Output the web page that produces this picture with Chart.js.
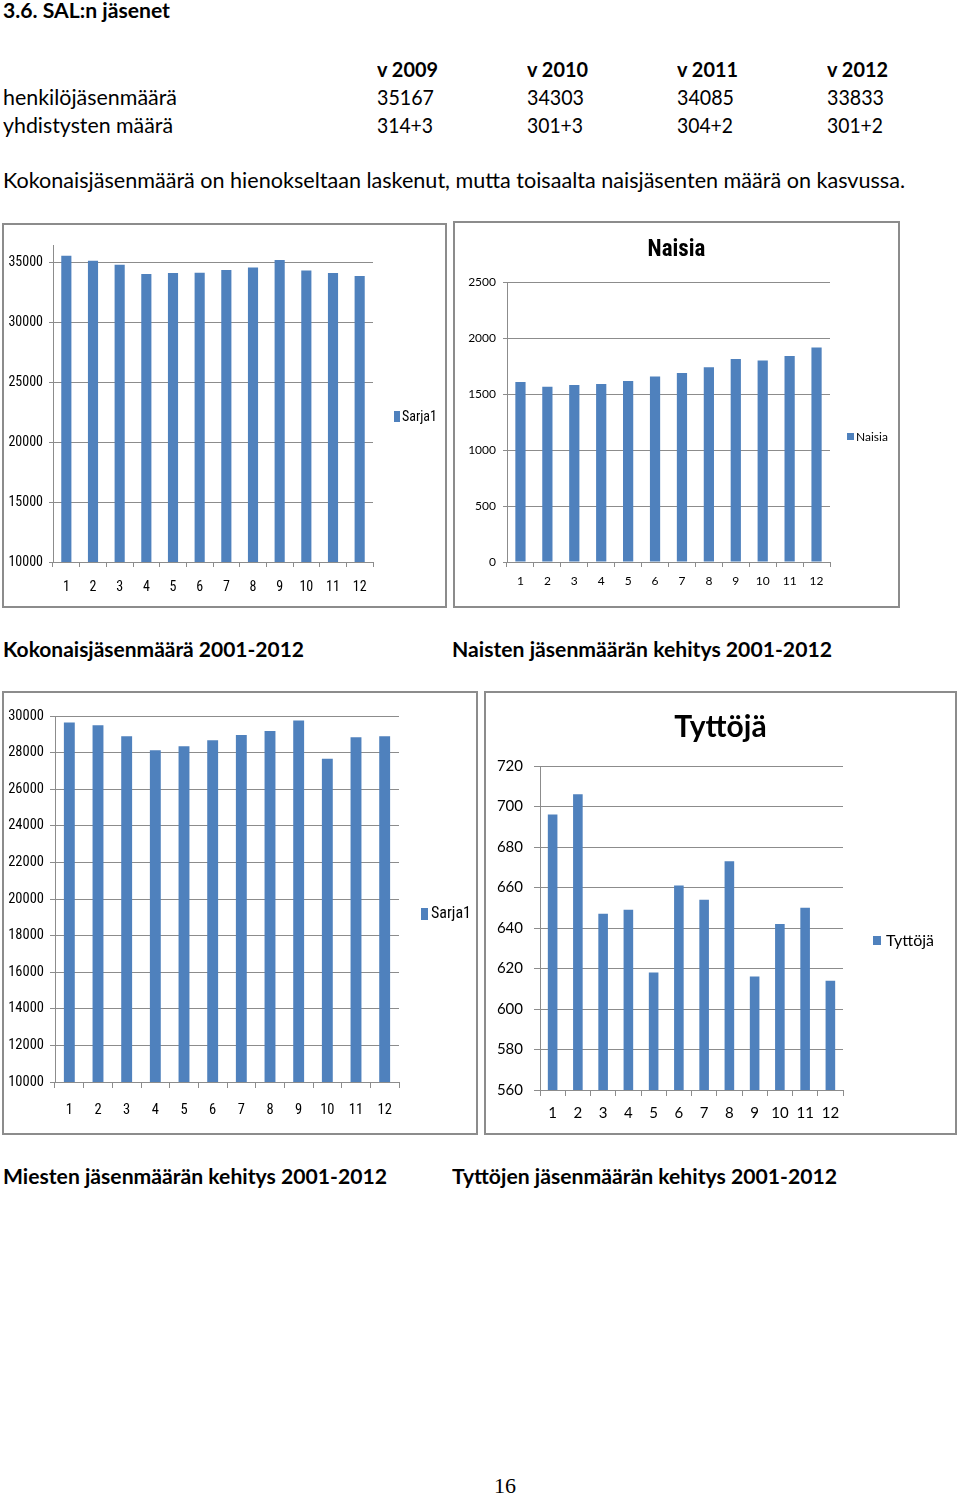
<!DOCTYPE html>
<html lang="fi">
<head>
<meta charset="UTF-8">
<title>3.6. SAL:n jäsenet</title>
<script src="https://cdn.jsdelivr.net/npm/chart.js"></script>
<style>
    body {
        margin: 0;
        width: 960px;
        height: 1496px;
        position: relative;
        background: #fff;
        font-family: Lato, 'Open Sans', sans-serif;
        color: #000;
        overflow: hidden;
    }

    .t {
        position: absolute;
        white-space: nowrap;
        line-height: 1.2;
        transform-origin: left top;
        font-size: 21px;
    }

    .b {
        font-weight: bold;
        font-size: 20px;
    }

    .box {
        position: absolute;
        box-sizing: border-box;
        border: 2px solid #8c8c8c;
    }

    canvas {
        position: absolute;
    }

    .leg {
        position: absolute;
        white-space: nowrap;
        line-height: 20px;
        height: 20px;
    }

    .leg i {
        position: absolute;
        background: #4f81bd;
    }

    .cond {
        font-family: 'Roboto Condensed', 'Liberation Sans Narrow', sans-serif;
    }
</style>
</head>
<body>
    <div class="t b" style="left:3px; top:-2px" data-w="167">3.6. SAL:n jäsenet</div>

    <div id="table"></div>

    <div class="t" style="left:3px; top:167px" data-w="902">Kokonaisjäsenmäärä on hienokseltaan laskenut, mutta toisaalta naisjäsenten määrä on kasvussa.</div>

    <div class="box" style="left:2px; top:223px; width:445px; height:385px"></div>
    <canvas id="totalChart" width="443" height="383" style="left:3px; top:224px"></canvas>
    <div class="leg cond" style="left:394px; top:406px; font-size:14px">
        <i style="left:0; top:5px; width:6px; height:11px"></i><span style="margin-left:8px">Sarja1</span>
    </div>

    <div class="box" style="left:453px; top:221px; width:447px; height:387px"></div>
    <canvas id="womenChart" width="445" height="385" style="left:454px; top:222px"></canvas>
    <div class="leg" style="left:847px; top:427px; font-size:12px">
        <i style="left:0; top:6px; width:7px; height:7px"></i><span style="margin-left:9px">Naisia</span>
    </div>

    <div class="t b" style="left:3px; top:637px" data-w="301">Kokonaisjäsenmäärä 2001-2012</div>
    <div class="t b" style="left:452px; top:637px" data-w="380">Naisten jäsenmäärän kehitys 2001-2012</div>

    <div class="box" style="left:2px; top:691px; width:476px; height:444px"></div>
    <canvas id="menChart" width="474" height="442" style="left:3px; top:692px"></canvas>
    <div class="leg cond" style="left:421px; top:903px; font-size:16px">
        <i style="left:0; top:5px; width:7px; height:12px"></i><span style="margin-left:10px">Sarja1</span>
    </div>

    <div class="box" style="left:484px; top:691px; width:473px; height:444px"></div>
    <canvas id="girlsChart" width="471" height="442" style="left:485px; top:692px"></canvas>
    <div class="leg" style="left:873px; top:930px; font-size:16px">
        <i style="left:0; top:6px; width:8px; height:9px"></i><span style="margin-left:13px">Tyttöjä</span>
    </div>

    <div class="t b" style="left:3px; top:1164px" data-w="384">Miesten jäsenmäärän kehitys 2001-2012</div>
    <div class="t b" style="left:452px; top:1164px" data-w="385">Tyttöjen jäsenmäärän kehitys 2001-2012</div>

    <div class="t" style="left:0; width:960px; text-align:center; top:1475px; padding-left:50px; box-sizing:border-box; font-family:'Liberation Serif','DejaVu Serif',serif; font-size:22px; line-height:1">16</div>

<script>
    // table above the charts
    const tableYears = ['v 2009', 'v 2010', 'v 2011', 'v 2012'];
    const personMembers = ['35167', '34303', '34085', '33833'];
    const associations = ['314+3', '301+3', '304+2', '301+2'];
    const rowLabels = ['henkilöjäsenmäärä', 'yhdistysten määrä'];

    // chart data, categories 1..12 = 2001..2012
    const categories = ['1', '2', '3', '4', '5', '6', '7', '8', '9', '10', '11', '12'];
    const totalMembers = [35530, 35110, 34780, 34000, 34080, 34110, 34330, 34550, 35167, 34303, 34085, 33833];
    const women = [1611, 1569, 1584, 1593, 1620, 1659, 1692, 1743, 1817, 1802, 1844, 1919];
    const men = [29640, 29490, 28890, 28130, 28350, 28670, 28960, 29180, 29760, 27670, 28840, 28890];
    const girls = [696, 706, 647, 649, 618, 661, 654, 673, 616, 642, 650, 614];

    // y axis tick values
    const totalTicks = [10000, 15000, 20000, 25000, 30000, 35000];
    const womenTicks = [0, 500, 1000, 1500, 2000, 2500];
    const menTicks = [10000, 12000, 14000, 16000, 18000, 20000, 22000, 24000, 26000, 28000, 30000];
    const girlsTicks = [560, 580, 600, 620, 640, 660, 680, 700, 720];

    const narrow = "'Roboto Condensed', 'Liberation Sans Narrow', 'Liberation Sans', sans-serif";
    const normal = "Lato, 'Open Sans', sans-serif";
    const barColor = '#4f81bd';
    const lineColor = '#8c8c8c';

    // build table rows
    const table = document.getElementById('table');
    const colX = [377, 527, 677, 827];
    function addText(txt, x, top, cls, w) {
        const d = document.createElement('div');
        d.className = cls;
        d.style.left = x + 'px';
        d.style.top = top + 'px';
        d.textContent = txt;
        if (w) d.dataset.w = w;
        table.appendChild(d);
    }
    tableYears.forEach((y, i) => addText(y, colX[i], 57, 't b', 61));
    addText(rowLabels[0], 3, 84, 't', 174);
    addText(rowLabels[1], 3, 112, 't', 170);
    personMembers.forEach((v, i) => addText(v, colX[i], 84, 't', 57));
    associations.forEach((v, i) => addText(v, colX[i], 112, 't', 56));

    // squeeze text so it takes the same width as in the document
    document.querySelectorAll('[data-w]').forEach(el => {
        const w = el.getBoundingClientRect().width;
        el.style.transform = 'scaleX(' + (el.dataset.w / w) + ')';
    });

    function makeBarChart(id, o) {
        const scales = {
            x: {
                grid: { offset: true, drawOnChartArea: false, drawTicks: true, tickLength: o.xTick, color: lineColor },
                border: { display: true, color: lineColor, width: 1 },
                ticks: { color: '#000', padding: o.xPad, maxRotation: 0, autoSkip: false, font: { family: o.family, size: o.size } },
                afterFit: s => { s.height = o.xHeight; }
            },
            y: {
                min: o.min,
                max: o.max,
                grid: { color: lineColor, tickLength: o.yTick },
                border: { display: true, color: lineColor, width: 1 },
                ticks: { color: '#000', padding: o.yPad, font: { family: o.family, size: o.size }, callback: v => String(v) },
                afterBuildTicks: s => { s.ticks = o.ticks.map(v => ({ value: v })); },
                afterFit: s => { s.width = o.yWidth; }
            }
        };
        if (o.rightSpace) {
            // empty space on the right where the legend sits, keeps the title centred on the whole box
            scales.yRight = {
                position: 'right',
                grid: { display: false },
                border: { display: false },
                ticks: { display: false },
                afterFit: s => { s.width = o.rightSpace; }
            };
        }
        return new Chart(document.getElementById(id), {
            type: 'bar',
            data: {
                labels: categories,
                datasets: [{
                    label: o.label,
                    data: o.data,
                    backgroundColor: barColor,
                    borderWidth: 0,
                    barPercentage: 1,
                    categoryPercentage: 0.38
                }]
            },
            options: {
                responsive: false,
                animation: false,
                layout: { padding: o.padding },
                plugins: {
                    legend: { display: false },
                    tooltip: { enabled: false },
                    title: o.title ? {
                        display: true,
                        text: o.title.text,
                        color: '#000',
                        font: { family: o.title.family, size: o.title.size, weight: 'bold', lineHeight: 1.2 },
                        padding: o.title.padding
                    } : { display: false }
                },
                scales: scales
            }
        });
    }

    makeBarChart('totalChart', {
        label: 'Sarja1', data: totalMembers, ticks: totalTicks,
        min: 10000, max: 36420,
        family: narrow, size: 14,
        padding: { left: 0, right: 73, top: 21, bottom: 0 },
        yWidth: 50, xHeight: 45, yTick: 4, yPad: 6, xTick: 5, xPad: 12
    });

    makeBarChart('womenChart', {
        label: 'Naisia', data: women, ticks: womenTicks,
        min: 0, max: 2500,
        family: normal, size: 12,
        title: { text: 'Naisia', family: narrow, size: 23, padding: { top: 14, bottom: 19 } },
        padding: { left: 0, right: 0, top: 0, bottom: 0 },
        rightSpace: 69,
        yWidth: 53, xHeight: 45, yTick: 4, yPad: 7, xTick: 5, xPad: 7
    });

    makeBarChart('menChart', {
        label: 'Sarja1', data: men, ticks: menTicks,
        min: 10000, max: 30000,
        family: narrow, size: 14.5,
        padding: { left: 0, right: 78, top: 24, bottom: 0 },
        yWidth: 52, xHeight: 52, yTick: 5, yPad: 6, xTick: 6, xPad: 14
    });

    makeBarChart('girlsChart', {
        label: 'Tyttöjä', data: girls, ticks: girlsTicks,
        min: 560, max: 720,
        family: normal, size: 15,
        title: { text: 'Tyttöjä', family: normal, size: 30, padding: { top: 17, bottom: 21 } },
        padding: { left: 0, right: 0, top: 0, bottom: 0 },
        rightSpace: 113,
        yWidth: 55, xHeight: 44, yTick: 6, yPad: 11, xTick: 6, xPad: 8
    });
</script>
</body>
</html>
